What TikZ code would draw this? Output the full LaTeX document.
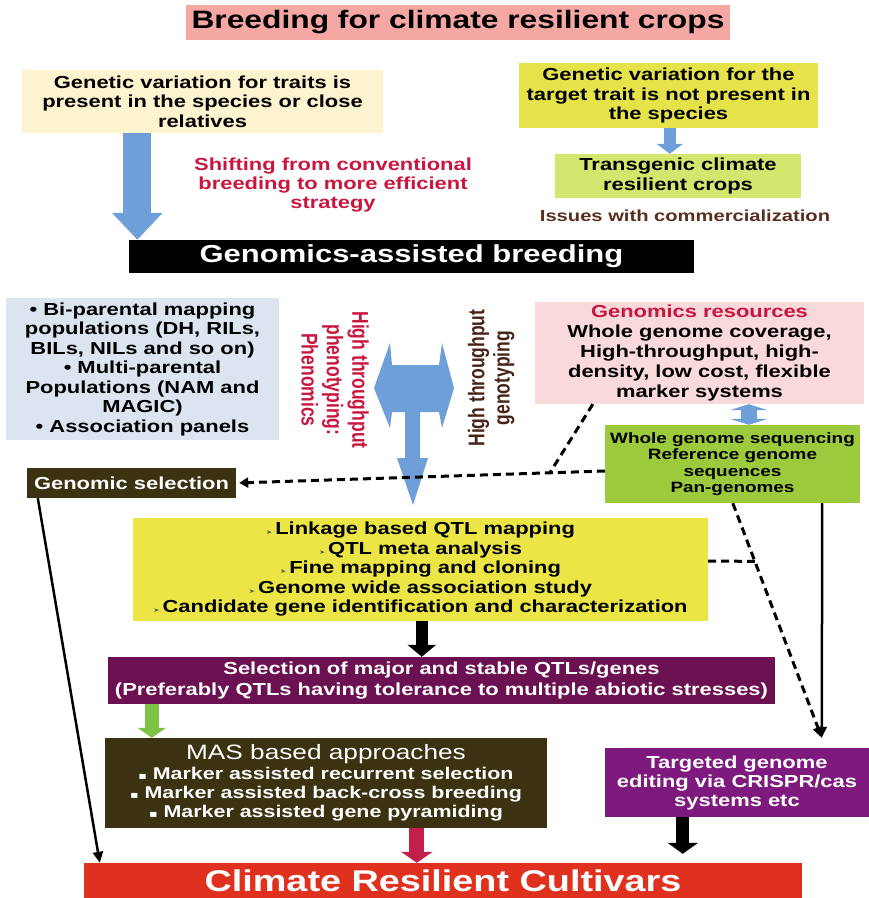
\documentclass[tikz,border=0pt]{standalone}
\usepackage{fontspec}
\setmainfont{Liberation Sans}[FakeStretch=1.26]
\newfontfamily\plainf{Liberation Sans}
\newfontfamily\symf{DejaVu Sans}[FakeStretch=1.26]
\usetikzlibrary{arrows.meta,calc}

\definecolor{titlepink}{HTML}{F4A7A3}
\definecolor{cream}{HTML}{FCF3CF}
\definecolor{lemon}{HTML}{E6E34A}
\definecolor{lime}{HTML}{D4E66E}
\definecolor{paleblue}{HTML}{DCE5EF}
\definecolor{palepink}{HTML}{F9D9DC}
\definecolor{leaf}{HTML}{9BCB3C}
\definecolor{qtlyellow}{HTML}{EBE645}
\definecolor{plum}{HTML}{6B1050}
\definecolor{olive}{HTML}{3B3211}
\definecolor{violet}{HTML}{7E1A7E}
\definecolor{tomato}{HTML}{E0301E}
\definecolor{crimson}{HTML}{C8163F}
\definecolor{bark}{HTML}{5A2D1E}
\definecolor{arrowblue}{HTML}{6F9FD8}
\definecolor{grass}{HTML}{7DC242}
\definecolor{berry}{HTML}{C41E4A}

\newcommand\setfs[2]{\fontsize{#1}{#2}\selectfont}
\newcommand\tinybullet{{\symf\fontsize{6}{6}\selectfont\color{black!65}➤}\,}
\newcommand\sqbullet{{\symf\fontsize{10}{10}\selectfont ▪}\ }

\tikzset{
  panel/.style={rectangle, inner sep=0pt, align=center, font=\bfseries\setfs{17.4}{19.5}},
  label/.style={inner sep=0pt, align=center, font=\bfseries\setfs{17.4}{19}},
  conn/.style={line width=2.5pt, -{Triangle[length=11pt,width=10pt]}},
  dconn/.style={line width=3pt, dash pattern=on 8pt off 5pt},
}

\begin{document}
\begin{tikzpicture}[x=1pt, y=-1pt]
\useasboundingbox (0,0) rectangle (869,898);

% title and the two starting situations
\node[panel, fill=titlepink, minimum width=544pt, minimum height=35pt, font=\bfseries\setfs{25.2}{27}]
  (title) at (458,22.5) {Breeding for climate resilient crops};
\node[panel, fill=cream, minimum width=361pt, minimum height=63pt]
  (varyes) at (202.5,101.5) {Genetic variation for traits is\\present in the species or close\\relatives};
\node[panel, fill=lemon, minimum width=299pt, minimum height=65pt]
  (varno) at (668.5,95.5) {Genetic variation for the\\target trait is not present in\\the species};
\node[panel, fill=lime, minimum width=246pt, minimum height=44pt]
  (transgenic) at (678,176) {Transgenic climate\\resilient crops};
\node[label, text=bark, font=\bfseries\setfs{16}{18}] (issues) at (685,216) {Issues with commercialization};
\node[label, text=crimson] (shift) at (333,185) {Shifting from conventional\\breeding to more efficient\\strategy};

\node[panel, fill=black, text=white, minimum width=565pt, minimum height=33pt, font=\bfseries\setfs{24.6}{27}]
  (gab) at (411.5,256.5) {Genomics-assisted breeding};

% resources feeding genomics-assisted breeding
\node[panel, fill=paleblue, minimum width=273pt, minimum height=142pt]
  (pops) at (142.5,369) {• Bi-parental mapping\\populations (DH, RILs,\\BILs, NILs and so on)\\• Multi-parental\\Populations (NAM and\\MAGIC)\\• Association panels};
\node[inner sep=0pt, text=crimson] (pheno) at (332,380)
  {\scalebox{1.3}[1]{\rotatebox{-90}{\plainf\bfseries\setfs{17.5}{19.5}\begin{tabular}{@{}c@{}}High throughput\\phenotyping:\\Phenomics\end{tabular}}}};
\node[inner sep=0pt, text=bark!80!black] (geno) at (492,378)
  {\scalebox{1.3}[1]{\rotatebox{90}{\plainf\bfseries\setfs{17.5}{19.5}\begin{tabular}{@{}c@{}}High throughput\\genotyping\end{tabular}}}};
\node[panel, fill=palepink, minimum width=329pt, minimum height=102pt, font=\bfseries\setfs{17.4}{20}]
  (res) at (699.5,353) {{\color{crimson}Genomics resources}\\Whole genome coverage,\\High-throughput, high-\\density, low cost, flexible\\marker systems};
\node[panel, fill=leaf, minimum width=255pt, minimum height=78pt, font=\bfseries\setfs{15}{16.5}]
  (wgs) at (732.5,464) {Whole genome sequencing\\Reference genome\\sequences\\Pan-genomes};
\node[panel, fill=olive, text=white, minimum width=209pt, minimum height=30pt]
  (gs) at (131.5,483) {Genomic selection};

% mapping and selection
\node[panel, fill=qtlyellow, minimum width=575pt, minimum height=103pt]
  (qtl) at (420.5,569.5) {\tinybullet Linkage based QTL mapping\\\tinybullet QTL meta analysis\\\tinybullet Fine mapping and cloning\\\tinybullet Genome wide association study\\\tinybullet Candidate gene identification and characterization};
\node[panel, fill=plum, text=white, minimum width=667pt, minimum height=47pt, font=\bfseries\setfs{17.4}{21}]
  (major) at (441.5,680.5) {Selection of major and stable QTLs/genes\\(Preferably QTLs having tolerance to multiple abiotic stresses)};
\node[panel, fill=olive, text=white, minimum width=442pt, minimum height=90pt, font=\bfseries\setfs{17}{19}]
  (mas) at (326,783) {{\mdseries\setfs{20.8}{22}MAS based approaches}\\[1pt]\sqbullet Marker assisted recurrent selection\\\sqbullet Marker assisted back-cross breeding\\\sqbullet Marker assisted gene pyramiding};
\node[panel, fill=violet, text=white, minimum width=264pt, minimum height=69pt, font=\bfseries\setfs{17.4}{19}]
  (edit) at (737,782.5) {Targeted genome\\editing via CRISPR/cas\\systems etc};
\node[panel, fill=tomato, text=white, minimum width=718pt, minimum height=36pt, font=\bfseries\setfs{30}{31}]
  (crv) at (443,881) {Climate Resilient Cultivars};

% block arrows
\draw[line width=28pt, arrowblue, -{Triangle[length=27pt,width=49pt]}]
  ([xshift=115.5pt]varyes.south west) -- ([xshift=8.5pt]gab.north west);
\draw[line width=12pt, arrowblue, -{Triangle[length=10pt,width=26pt]}]
  ([xshift=151pt]varno.south west) -- ([xshift=115pt]transgenic.north west);
\draw[line width=16pt, arrowblue, {Triangle[length=6pt,width=38pt]}-{Triangle[length=6pt,width=38pt]}]
  ([xshift=214pt]res.south west) -- ([xshift=144pt]wgs.north west);
\fill[arrowblue] (390,343) -- (392,365) -- (439,365) -- (442,343) -- (454,388) -- (442,428)
  -- (439,412) -- (420,412) -- (420,458) -- (428,458) -- (413,505) -- (397,458) -- (405,458)
  -- (405,412) -- (392,412) -- (390,428) -- (374,388) -- cycle;
\draw[line width=12pt, -{Triangle[length=12pt,width=28pt]}]
  ([xshift=289pt]qtl.south west) -- ([xshift=314pt]major.north west);
\draw[line width=14pt, grass, -{Triangle[length=10pt,width=28pt]}]
  ([xshift=44pt]major.south west) -- ([xshift=47pt]mas.north west);
\draw[line width=15pt, berry, -{Triangle[length=11pt,width=31pt]}]
  ([xshift=312pt]mas.south west) -- ([xshift=333pt]crv.north west);
\draw[line width=13pt, -{Triangle[length=11pt,width=30pt]}]
  ([xshift=78pt]edit.south west) -- ([xshift=599pt,yshift=9pt]crv.north west);

% thin connectors
\coordinate (gsrc) at ([yshift=-7pt]wgs.west);
\coordinate (psrc) at ([xshift=58pt]res.south west);
\coordinate (pjoin) at ($(gsrc)!0.149!(gs.east)$);
\coordinate (dsrc) at ([xshift=128pt]wgs.south west);
\coordinate (merge) at ([xshift=217pt,yshift=10pt]edit.north west);
\coordinate (yjoin) at ($(dsrc)!0.248!(merge)$);

\draw[dconn, -{Triangle[length=9pt,width=10pt]}, shorten >=3pt] (gsrc) -- (gs.east);
\draw[dconn] (psrc) -- (pjoin);
\draw[dconn, -{Triangle[length=11pt,width=10pt]}] (dsrc) -- (merge);
\draw[dconn] ([yshift=8.5pt]qtl.east) -- (yjoin);
\draw[conn] ([xshift=-38pt]wgs.south east) -- (merge);
\draw[conn] ([xshift=11pt]gs.south west) -- ([xshift=16pt]crv.north west);
\end{tikzpicture}
\end{document}
